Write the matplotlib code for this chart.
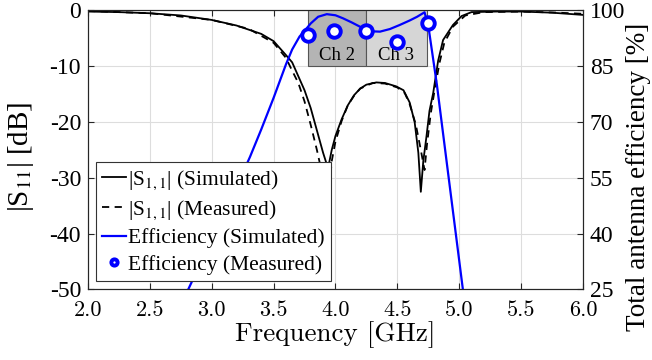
import numpy as np
import matplotlib
matplotlib.use('Agg')
import matplotlib.pyplot as plt
from matplotlib.ticker import FormatStrFormatter

plt.rcParams['font.family'] = ['Liberation Serif', 'DejaVu Serif']
plt.rcParams['mathtext.fontset'] = 'stix'
plt.rcParams['axes.unicode_minus'] = False

# |S11| simulated [GHz, dB]
f_sim = [2.0, 2.25, 2.5, 2.75, 3.0, 3.2, 3.4, 3.5, 3.6, 3.65, 3.7, 3.75, 3.8, 3.85, 3.9,
         3.94, 3.97, 4.0, 4.05, 4.1, 4.15, 4.2, 4.25, 4.33, 4.4, 4.49, 4.55, 4.6, 4.64,
         4.67, 4.69, 4.71, 4.735, 4.76, 4.79, 4.83, 4.87, 4.95, 5.02, 5.1, 5.3, 5.5, 5.75, 6.0]
s11_sim = [-0.2, -0.3, -0.5, -0.9, -1.7, -2.7, -4.2, -5.5, -8.0, -9.3, -11.8, -14.3, -17.5,
           -21.5, -25.5, -28.3, -25.0, -22.5, -19.5, -17.0, -15.2, -14.0, -13.3, -12.9, -13.0,
           -13.6, -14.3, -16.5, -20.0, -25.5, -32.5, -27.0, -22.7, -18.0, -14.8, -9.0, -5.3,
           -2.6, -1.0, -0.3, -0.2, -0.2, -0.4, -0.8]

# |S11| measured
f_meas = [2.0, 2.5, 3.0, 3.3, 3.5, 3.6, 3.65, 3.7, 3.75, 3.8, 3.85, 3.89, 3.92, 3.935, 3.95,
          3.97, 4.0, 4.05, 4.1, 4.15, 4.2, 4.3, 4.4, 4.5, 4.56, 4.6, 4.65, 4.69, 4.72, 4.74,
          4.77, 4.8, 4.84, 4.88, 4.95, 5.05, 5.2, 5.5, 5.8, 6.0]
s11_meas = [-0.1, -0.5, -1.7, -3.3, -5.8, -8.5, -10.8, -13.0, -16.3, -20.5, -25.0, -29.0,
            -34.0, -38.0, -32.0, -27.0, -23.5, -19.8, -17.0, -15.3, -14.0, -13.0, -13.1,
            -13.8, -14.8, -16.8, -20.5, -25.0, -28.6, -24.0, -18.5, -14.5, -9.5, -5.8, -2.9,
            -0.9, -0.3, -0.2, -0.4, -0.6]

# total efficiency simulated [%]
f_eff = [2.7, 2.81, 3.0, 3.2, 3.31, 3.4, 3.5, 3.55, 3.6, 3.65, 3.71, 3.75, 3.8, 3.86, 3.93,
         4.0, 4.06, 4.13, 4.2, 4.28, 4.36, 4.44, 4.52, 4.6, 4.66, 4.72, 4.75, 4.82, 4.9,
         5.03, 5.06]
eff_sim = [17, 25, 38.5, 52.5, 60.7, 68, 76.5, 81, 85.5, 89.5, 93, 94.5, 96.5, 98.3, 99.0,
           98.7, 97.9, 96.8, 95.6, 94.4, 94.3, 95.0, 96.1, 97.3, 98.3, 99.5, 96.0, 80, 59,
           25, 17]

# total efficiency measured
f_eff_meas = [3.775, 3.99, 4.244, 4.494, 4.745]
eff_meas = [93.5, 94.5, 94.4, 91.5, 96.5]

# channels
ch_names = ['Ch 2', 'Ch 3']
ch_edges = [(3.775, 4.244), (4.244, 4.737)]
ch_colors = ['#b4b4b4', '#d6d6d6']

fig = plt.figure(figsize=(6.52, 3.6), dpi=100)
ax = fig.add_axes([0.135, 0.196, 0.759, 0.775])
ax2 = ax.twinx()

l1, = ax.plot(f_sim, s11_sim, color='black', lw=1.3, label=r'|S$_{1,1}$| (Simulated)')
l2, = ax.plot(f_meas, s11_meas, color='black', lw=1.3, ls=(0, (4, 3)),
              label=r'|S$_{1,1}$| (Measured)')

for name, (a, b), c in zip(ch_names, ch_edges, ch_colors):
    ax2.axvspan(a, b, ymin=0.8, ymax=1.0, facecolor=c, edgecolor='#555555', lw=0.8, zorder=1)
    ax2.text((a + b) / 2, 85.6, name, ha='center', va='bottom', fontsize=13.5, zorder=2)

l3, = ax2.plot(f_eff, eff_sim, color='#0000ff', lw=1.6, zorder=3, label='Efficiency (Simulated)')
l4, = ax2.plot(f_eff_meas, eff_meas, 'o', color='#0000ff', mfc='white', ms=9, mew=2.8,
               zorder=4, label='Efficiency (Measured)')

ax.set_xlim(2.0, 6.0)
ax.set_ylim(-50, 0)
ax2.set_ylim(25, 100)
ax.set_xticks(np.arange(2.0, 6.01, 0.5))
ax.set_yticks(np.arange(-50, 1, 10))
ax2.set_yticks(np.arange(25, 101, 15))
ax.xaxis.set_major_formatter(FormatStrFormatter('%.1f'))
ax.grid(True, color='#dddddd', lw=0.8)
ax.set_axisbelow(True)

for a in (ax, ax2):
    a.tick_params(direction='in', labelsize=17, length=4, color='#262626', pad=5)
    for s in a.spines.values():
        s.set_color('#262626')
ax.tick_params(top=True)
ax.tick_params(axis='x', labelsize=16, pad=8)
for lab in ax.get_xticklabels():
    lab.set_fontfamily('cmr10')

ax.set_xlabel('Frequency [GHz]', fontsize=19.5, fontfamily='cmr10', labelpad=1)
ax.set_ylabel(r'|S$_{11}$| [dB]', fontsize=21, va='center')
ax.yaxis.set_label_coords(-0.135, 0.475)
ax2.set_ylabel('Total antenna efficiency [%]', fontsize=19.5, va='center')
ax2.yaxis.set_label_coords(1.112, 0.405)

leg = ax2.legend(handles=[l1, l2, l3, l4], loc='lower left', bbox_to_anchor=(0.016, 0.03),
                 fontsize=15.5, handlelength=1.1, handletextpad=0.1, borderpad=0.3,
                 labelspacing=0.3, borderaxespad=0, fancybox=False, framealpha=1,
                 edgecolor='#333333', markerscale=0.5)
leg.get_frame().set_linewidth(0.8)

fig.savefig('out.png', dpi=100)
